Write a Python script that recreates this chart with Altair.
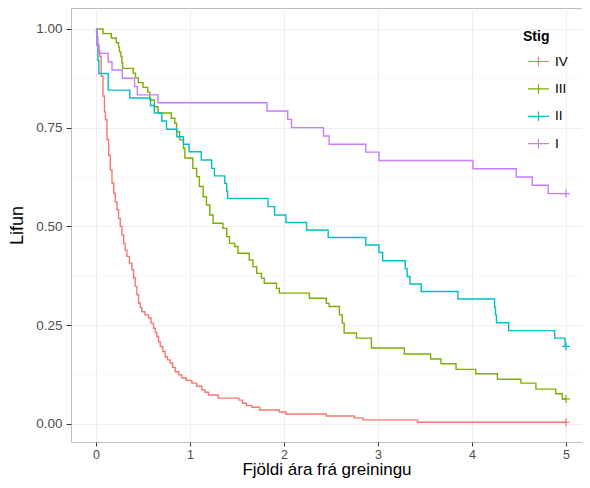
import altair as alt
import pandas as pd

stages = ["IV", "III", "II", "I"]
colors = ["#F8766D", "#7CAE00", "#00BFC4", "#C77CFF"]

# Stage IV
t_iv = [0, 0.005, 0.01, 0.02, 0.03, 0.04, 0.055, 0.074, 0.09, 0.10,
        0.117, 0.135, 0.152, 0.17, 0.188, 0.205, 0.223, 0.24, 0.258, 0.276,
        0.294, 0.31, 0.329, 0.355, 0.382, 0.40, 0.417, 0.435, 0.453, 0.47,
        0.488, 0.52, 0.559, 0.585, 0.612, 0.63, 0.648, 0.665, 0.683, 0.71,
        0.736, 0.76, 0.789, 0.815, 0.842, 0.88, 0.913, 0.96, 1.02, 1.07,
        1.125, 1.16, 1.196, 1.30, 1.52, 1.56, 1.60, 1.66, 1.74, 1.95,
        2.02, 2.45, 2.75, 2.84, 3.42, 5.0]
s_iv = [1.0, 0.99, 0.98, 0.96, 0.945, 0.93, 0.88, 0.83, 0.79, 0.77,
        0.72, 0.68, 0.643, 0.61, 0.584, 0.562, 0.542, 0.52, 0.50, 0.478,
        0.457, 0.44, 0.424, 0.407, 0.39, 0.37, 0.348, 0.327, 0.306, 0.295,
        0.284, 0.276, 0.268, 0.255, 0.242, 0.231, 0.221, 0.208, 0.196, 0.183,
        0.170, 0.162, 0.154, 0.143, 0.132, 0.124, 0.116, 0.110, 0.103, 0.095,
        0.086, 0.080, 0.073, 0.065, 0.060, 0.052, 0.046, 0.042, 0.035, 0.030,
        0.025, 0.020, 0.015, 0.010, 0.004, 0.004]

# Stage III
t_iii = [0, 0.074, 0.163, 0.216, 0.24, 0.25, 0.265, 0.275, 0.283, 0.396,
         0.42, 0.45, 0.50, 0.55, 0.573, 0.62, 0.66, 0.80, 0.839, 0.857,
         0.89, 0.93, 0.945, 1.03, 1.07, 1.10, 1.14, 1.175, 1.21, 1.245,
         1.35, 1.39, 1.42, 1.475, 1.51, 1.63, 1.67, 1.71, 1.76, 1.79,
         1.92, 1.95, 2.27, 2.45, 2.48, 2.59, 2.62, 2.64, 2.77, 2.93,
         3.28, 3.56, 3.67, 3.83, 4.04, 4.27, 4.52, 4.68, 4.89, 4.96, 5.0]
s_iii = [1.0, 0.988, 0.977, 0.965, 0.954, 0.942, 0.93, 0.915, 0.90, 0.888,
         0.876, 0.864, 0.852, 0.840, 0.82, 0.803, 0.787, 0.774, 0.761, 0.740,
         0.719, 0.698, 0.673, 0.647, 0.626, 0.601, 0.575, 0.554, 0.529, 0.508,
         0.495, 0.474, 0.457, 0.449, 0.432, 0.415, 0.398, 0.381, 0.369, 0.356,
         0.343, 0.331, 0.318, 0.305, 0.297, 0.276, 0.255, 0.230, 0.217, 0.192,
         0.177, 0.164, 0.152, 0.138, 0.127, 0.113, 0.103, 0.088, 0.076, 0.063, 0.063]

# Stage II
t_ii = [0, 0.01, 0.02, 0.03, 0.13, 0.36, 0.58, 0.62, 0.70, 0.75,
        0.86, 0.93, 0.99, 1.12, 1.23, 1.26, 1.37, 1.39, 1.40, 1.83,
        1.90, 2.02, 2.24, 2.47, 2.87, 3.01, 3.05, 3.29, 3.31, 3.34,
        3.46, 3.85, 4.24, 4.25, 4.26, 4.39, 4.88, 4.99, 5.0]
s_ii = [1.0, 0.96, 0.92, 0.887, 0.845, 0.825, 0.806, 0.787, 0.767, 0.746,
        0.727, 0.708, 0.689, 0.668, 0.647, 0.628, 0.609, 0.590, 0.571, 0.550,
        0.529, 0.510, 0.491, 0.472, 0.453, 0.434, 0.413, 0.393, 0.373, 0.354,
        0.335, 0.316, 0.295, 0.276, 0.256, 0.236, 0.217, 0.196, 0.196]

# Stage I
t_i = [0, 0.01, 0.03, 0.13, 0.17, 0.28, 0.41, 0.44, 0.66, 1.82,
       2.04, 2.08, 2.42, 2.48, 2.87, 3.01, 4.01, 4.47, 4.64, 4.81, 5.0]
s_i = [1.0, 0.958, 0.938, 0.917, 0.896, 0.875, 0.854, 0.833, 0.813, 0.792,
       0.771, 0.750, 0.729, 0.708, 0.688, 0.667, 0.646, 0.625, 0.604, 0.583, 0.583]

# censored observations at end of follow-up
cens_t = [5.0, 5.0, 5.0, 5.0]
cens_s = [0.004, 0.063, 0.196, 0.583]

x_grid = [0, 0.5, 1, 1.5, 2, 2.5, 3, 3.5, 4, 4.5, 5]
y_grid = [0, 0.125, 0.25, 0.375, 0.5, 0.625, 0.75, 0.875, 1.0]

rows = []
for stage, ts, ss in [("IV", t_iv, s_iv), ("III", t_iii, s_iii), ("II", t_ii, s_ii), ("I", t_i, s_i)]:
    assert len(ts) == len(ss), stage
    for t, s in zip(ts, ss):
        rows.append({"Stig": stage, "t": t, "s": s})
df = pd.DataFrame(rows)
cens = pd.DataFrame({"Stig": stages, "t": cens_t, "s": cens_s})

FONT = "Liberation Sans"

x_enc = alt.X(
    "t:Q",
    title="Fjöldi ára frá greiningu",
    scale=alt.Scale(domain=[-0.266, 5.170], nice=False, zero=False),
    axis=alt.Axis(
        values=x_grid, format="d",
        labelExpr="datum.value % 1 === 0 ? datum.label : ''",
        tickOpacity={"condition": {"test": "datum.value % 1 !== 0", "value": 0}, "value": 1},
        gridColor={"condition": {"test": "datum.value % 1 !== 0", "value": "#F8F8F8"}, "value": "#EEEEEE"},
        domain=False, tickSize=4, tickColor="#333333", tickWidth=1,
        labelColor="#4D4D4D", labelFontSize=12.5, labelPadding=2, labelFont=FONT,
        titleFontSize=17, titleFontWeight="normal", titleColor="black", titleFont=FONT, titlePadding=1,
    ),
)
y_enc = alt.Y(
    "s:Q",
    title="Lifun",
    scale=alt.Scale(domain=[-0.046, 1.053], nice=False, zero=False),
    axis=alt.Axis(
        values=y_grid, format=".2f",
        labelExpr="(datum.value * 4) % 1 === 0 ? datum.label : ''",
        tickOpacity={"condition": {"test": "(datum.value * 4) % 1 !== 0", "value": 0}, "value": 1},
        gridColor={"condition": {"test": "(datum.value * 4) % 1 !== 0", "value": "#F8F8F8"}, "value": "#EEEEEE"},
        domain=False, tickSize=5, tickColor="#333333", tickWidth=1,
        labelColor="#4D4D4D", labelFontSize=13.5, labelPadding=4, labelFont=FONT,
        titleFontSize=18, titleFontWeight="normal", titleColor="black", titleFont=FONT, titlePadding=9,
    ),
)
color_enc = alt.Color(
    "Stig:N",
    scale=alt.Scale(domain=stages, range=colors),
    sort=stages,
    legend=alt.Legend(
        title="Stig", orient="none", legendX=452, legendY=22,
        symbolType="M-1,0H1M0,-0.45V0.45", symbolSize=441, symbolStrokeWidth=1.2,
        symbolFillColor="transparent", symbolOffset=4,
        labelFontSize=13.5, labelFont=FONT, labelColor="black", labelOffset=5,
        titleFontSize=14, titleFont=FONT, titleFontWeight="bold", titleColor="black",
        titlePadding=6, rowPadding=8.4, padding=0,
    ),
)

lines = alt.Chart(df).mark_line(interpolate="step-after", strokeWidth=1.4).encode(
    x=x_enc, y=y_enc, color=color_enc
)
points = alt.Chart(cens).mark_point(
    shape="M-1,0H1M0,-1V1", size=64, filled=False, strokeWidth=1.2, opacity=1
).encode(x="t:Q", y="s:Q", color=alt.Color("Stig:N", scale=alt.Scale(domain=stages, range=colors), sort=stages))

chart = alt.layer(lines, points).properties(
    width=511, height=434,
    autosize=alt.AutoSizeParams(type="none"),
    padding={"left": 63, "top": 0, "right": 0, "bottom": 38},
    background="white",
).configure_view(stroke="#BDBDBD", strokeWidth=1)

chart.save("out.html", embed_options={"renderer": "svg", "actions": False})
